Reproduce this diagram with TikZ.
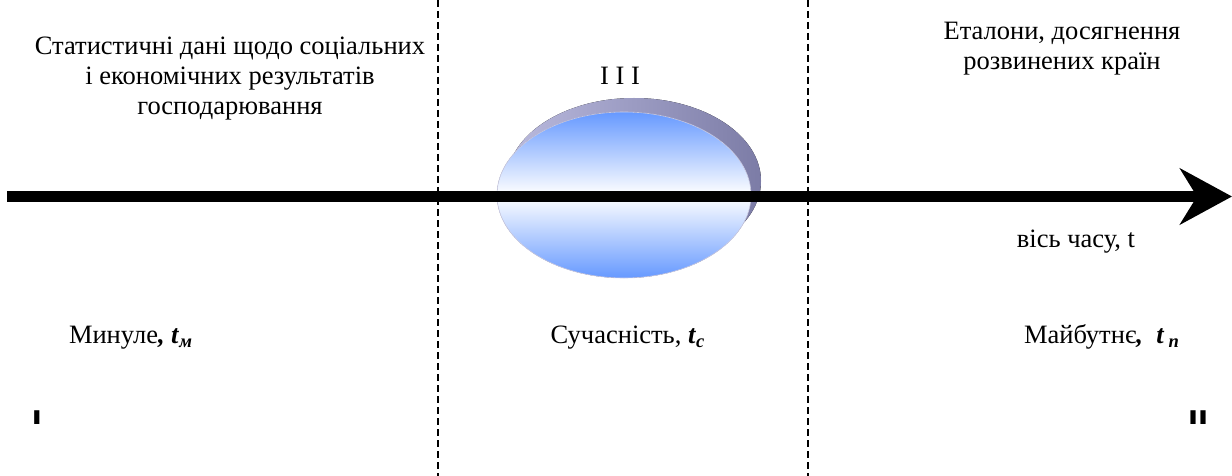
\documentclass[tikz,border=0pt]{standalone}
\usepackage{fontspec}
\setmainfont{Liberation Serif}
\setsansfont{Liberation Sans}
\usetikzlibrary{arrows.meta}

\definecolor{discblue}{HTML}{6699FF}
\definecolor{rimlight}{HTML}{BABADE}
\definecolor{rimdark}{HTML}{7C7CA6}

\tikzset{
  label text/.style={font=\fontsize{13.25}{15}\selectfont, inner sep=0pt},
  zone mark/.style={font=\sffamily\bfseries\fontsize{10}{12}\selectfont, inner sep=0pt},
  border line/.style={line width=0.75pt, dash pattern=on 3.5pt off 2pt},
}

\begin{document}
\begin{tikzpicture}[x=0.5pt, y=-0.5pt, line join=miter]

	\useasboundingbox (0,0) rectangle (1232,476);

	% Define vertices
	\coordinate (axisL) at (7,196.5);
	\coordinate (axisR) at (1232,196.5);

	% Zone borders
	\foreach \x/\n in {438/one, 808/two} {
		\coordinate (\n top) at (\x,0);
		\coordinate (\n bot) at (\x,476);
		\draw[border line] (\n top) -- (\n bot);
	}

	% Disc (present moment)
	\fill[left color=rimlight, right color=rimdark] (634,181) ellipse (127 and 83);
	\fill[top color=discblue, bottom color=discblue, middle color=white] (624,195) ellipse (127 and 83);
	\draw[line width=0.3pt, draw=rimlight!70] (624,195) ellipse (127 and 83);

	% Time axis
	\draw[line width=5.75pt, -{Stealth[length=26pt, width=28pt, inset=8.5pt]}] (axisL) -- (axisR);

	% Upper texts
	\node[label text, anchor=north, align=center] (stats) at (230,37)
		{Статистичні дані щодо соціальних\\і економічних результатів\\господарювання};
	\node[label text, anchor=base] (three) at (620,85) {I I I};
	\node[label text, anchor=north, align=center] (ideals) at (1062,22)
		{Еталони, досягнення\\розвинених країн};
	\node[label text, anchor=base] (axislabel) at (1076,247) {вісь часу, t};

	% Lower texts
	\node[label text, anchor=base] (past) at (131,343)
		{Минуле\textbf{\textit{, t}}\textsubscript{\textbf{\textit{м}}}};
	\node[label text, anchor=base] (present) at (628,343)
		{Сучасність, \textbf{\textit{t}}\textsubscript{\textbf{\textit{c}}}};
	\node[label text, anchor=base] (future) at (1102,343)
		{Майбутнє\textbf{\textit{,}}\ \ \textbf{\textit{t}}\,\textsubscript{\textbf{\textit{п}}}};

	% Zone marks
	\node[zone mark, anchor=base] (zoneI) at (37,424) {\scalebox{1.8}[1]{I}};
	\node[zone mark, anchor=base] (zoneII) at (1198,424) {\scalebox{1.8}[1]{II}};

\end{tikzpicture}
\end{document}
